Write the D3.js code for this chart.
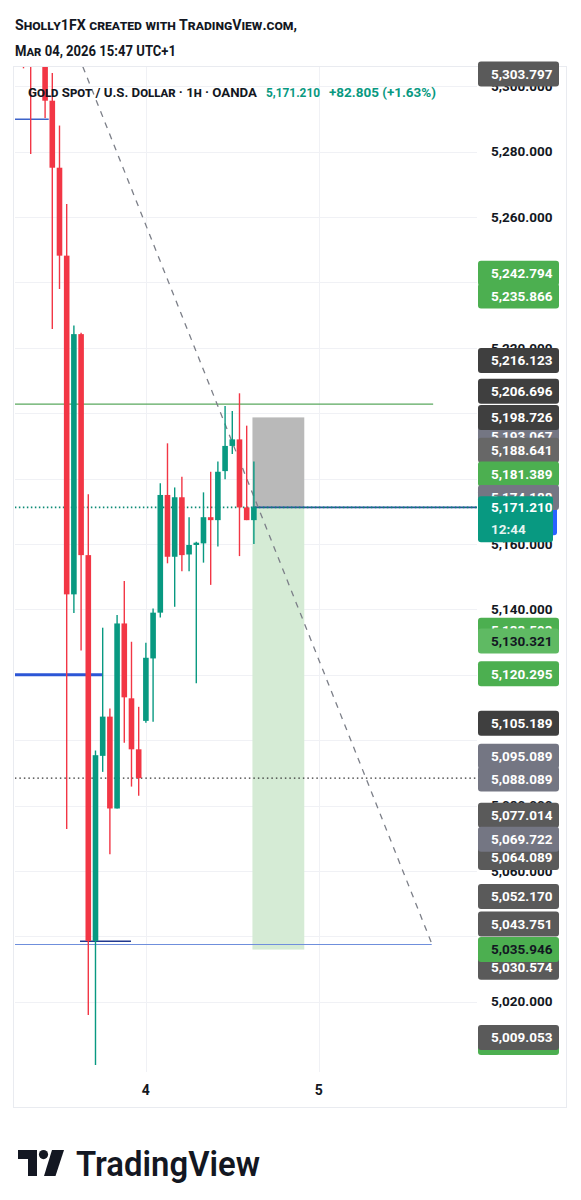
<!DOCTYPE html>
<html><head><meta charset="utf-8">
<script src="https://cdn.jsdelivr.net/npm/d3@7"></script>
<style>
html,body{margin:0;padding:0;background:#fff;}
svg{display:block;}
text{font-family:Roboto,"Liberation Sans",sans-serif;}
</style></head>
<body>
<script>
// ---------- DATA ----------
const hours = [-17,-16,-15,-14,-13,-12,-11,-10,-9,-8,-7,-6,-5,-4,-3,-2,-1,0,1,2,3,4,5,6,7,8,9,10,11,12,13,14,15];
const openV  = [5318,5318,5325,5318,5295.6,5275.1,5248.2,5144.6,5224.2,5156.6,5038.6,5095.2,5107.2,5079.1,5135.7,5112.8,5097.2,5105.9,5125.0,5139.0,5175.0,5156.1,5174.3,5156.8,5159.7,5160.2,5168.2,5167.3,5182.3,5190.0,5192.0,5171.2,5167.3];
const highV  = [5322,5325,5332,5322,5304.1,5288.0,5264.0,5226.8,5224.6,5175.2,5096.8,5134.4,5109.7,5138.3,5148.7,5130.1,5110.2,5129.8,5140.3,5178.6,5190.8,5177.3,5180.6,5168.2,5160.7,5175.8,5182.1,5185.2,5202.2,5200.7,5206.1,5196.2,5185.2];
const lowV   = [5305.5,5279.3,5312,5290.3,5225.8,5238.0,5072.8,5138.9,5127.4,5015.9,5000.6,5090.3,5065.1,5079.1,5099.2,5085.8,5083.0,5105.3,5105.6,5137.5,5154.1,5140.8,5151.7,5151.7,5117.4,5154.3,5147.5,5159.2,5179.8,5187.5,5156.3,5167.3,5160.0];
const closeV = [5312,5312,5318,5295.6,5275.1,5248.2,5144.6,5224.2,5156.6,5038.6,5095.4,5107.2,5079.1,5135.7,5113.1,5097.2,5088.4,5125.2,5139.0,5175.0,5156.1,5174.3,5156.6,5159.7,5160.4,5168.2,5167.3,5182.1,5190.0,5192.0,5171.2,5167.3,5171.21];

const timeTickHours = [0, 24];
const timeTickLabels = ["4", "5"];
const gridPrices = [5020,5040,5060,5080,5100,5120,5140,5160,5180,5200,5220,5240,5260,5280,5300];
const axisLabelPrices = [5300,5280,5260,5220,5160,5140,5080,5060,5020];

const lastPrice = 5171.21;
const prevClose = 5088.4;
const countdown = "12:44";

// horizontal drawings: [price, fromHour, toHour]
const hLineBlueTop   = [5289.9, -18.2, -13.5];
const hLineGreen     = [5202.8, -18.2, 39.9];
const hLineBlueThick = [5120.0, -18.2, -6.1];
const hLineBlueLow   = [5037.5, -18.2, 39.7];
const hLineNavyShort = [5038.5, -9.15, -2.07];
// trend line [hour, price]
const trendStart = [-8.76, 5306.0];
const trendEnd   = [39.7, 5037.8];
// short position: entry, stop, target, hours
const posEntry = 5171.21, posStop = 5198.726, posTarget = 5035.946;
const posFrom = 14.8, posTo = 22.0;

// price-scale tags (draw order)
const tagValues = [5303.797,5242.794,5235.866,5216.123,5193.067,5206.696,5198.726,5188.641,5181.389,5174.188,5133.593,5130.321,5120.295,5105.189,5095.089,5088.089,5064.089,5077.014,5069.722,5052.170,5043.751,5030.574,5035.946,5007.512,5009.053];
const tagKinds  = ["gray","green","green","dark","slate","dark","dark","mid","green","slate","green","lgreen","green","dark","slate","slate","gray","gray","slate","gray","gray","gray","greenB","green","gray"];

// ---------- LAYOUT ----------
const W = 581, H = 1200;
const L = 15, R = 477, T = 67, B = 1072;
const svg = d3.select("body").append("svg").attr("width", W).attr("height", H);

const x = d3.scaleLinear().domain([-18.18, 45.99]).range([L, R]);
const y = d3.scaleLinear().domain([5020, 5280]).range([1001.7, 151.7]);
const fmt = d3.format(",.3f");

const RED = "#f23645", GREEN = "#089981";

// frame
svg.append("rect").attr("x", 13.5).attr("y", 66.5).attr("width", 553).attr("height", 1041)
  .attr("fill", "none").attr("stroke", "#e9ebf0").attr("stroke-width", 1);

svg.append("defs").append("clipPath").attr("id", "plot")
  .append("rect").attr("x", L).attr("y", T).attr("width", R - L).attr("height", B - T);

const g = svg.append("g").attr("clip-path", "url(#plot)");

// grid
g.selectAll(".hg").data(gridPrices).join("line")
  .attr("x1", L).attr("x2", R).attr("y1", d => Math.round(y(d)) + 0.5).attr("y2", d => Math.round(y(d)) + 0.5)
  .attr("stroke", "#f0f1f5").attr("stroke-width", 1);
g.selectAll(".vg").data(timeTickHours).join("line")
  .attr("x1", d => Math.round(x(d)) + 0.5).attr("x2", d => Math.round(x(d)) + 0.5).attr("y1", T).attr("y2", B)
  .attr("stroke", "#f0f1f5").attr("stroke-width", 1);

// position boxes
g.append("rect").attr("x", x(posFrom)).attr("width", x(posTo) - x(posFrom))
  .attr("y", y(posStop)).attr("height", y(posEntry) - y(posStop))
  .attr("fill", "#b9b9b9");
g.append("rect").attr("x", x(posFrom)).attr("width", x(posTo) - x(posFrom))
  .attr("y", y(posEntry)).attr("height", y(posTarget) - y(posEntry))
  .attr("fill", "#d5ebd5");

// horizontal lines
function hline(d, color, w, dash) {
  const l = g.append("line").attr("x1", x(d[1])).attr("x2", x(d[2]))
    .attr("y1", y(d[0])).attr("y2", y(d[0])).attr("stroke", color).attr("stroke-width", w);
  if (dash) l.attr("stroke-dasharray", dash);
}
hline(hLineBlueTop, "#3d63c9", 1.5);
hline(hLineGreen, "#5aa85e", 1.2);
hline(hLineBlueThick, "#2c56d6", 3);
hline(hLineBlueLow, "#6f8fdc", 1.2);
hline(hLineNavyShort, "#22398f", 1.6);
hline([prevClose, -18.2, 46], "#333", 1.4, "1.5,3");
hline([posEntry, posFrom, 46], "#2a4e9c", 1.6);
hline([lastPrice, -18.2, 46], "#0a8a74", 1.6, "1.5,2.5");

// trend line
g.append("line").attr("x1", x(trendStart[0])).attr("y1", y(trendStart[1]))
  .attr("x2", x(trendEnd[0])).attr("y2", y(trendEnd[1]))
  .attr("stroke", "#7c7f88").attr("stroke-width", 1.3).attr("stroke-dasharray", "6,6");

// candles
const candles = hours.map((h, i) => ({h, o: openV[i], hi: highV[i], lo: lowV[i], c: closeV[i]}));
const bw = 5.6;
const cg = g.selectAll(".c").data(candles).join("g");
cg.append("line").attr("x1", d => x(d.h)).attr("x2", d => x(d.h))
  .attr("y1", d => y(d.hi)).attr("y2", d => y(d.lo))
  .attr("stroke", d => d.c >= d.o ? GREEN : RED).attr("stroke-width", 1.4);
cg.append("rect").attr("x", d => x(d.h) - bw / 2).attr("width", bw)
  .attr("y", d => y(Math.max(d.o, d.c)))
  .attr("height", d => Math.max(1.5, Math.abs(y(d.o) - y(d.c))))
  .attr("fill", d => d.c >= d.o ? GREEN : RED);

// ---------- PRICE SCALE ----------
const ax = svg.append("g");
ax.selectAll(".al").data(axisLabelPrices).join("text")
  .attr("x", 491).attr("y", d => y(d)).attr("dy", "0.35em")
  .attr("font-size", 13.5).attr("font-weight", 700).attr("fill", "#131722")
  .text(d => fmt(d));

const kindFill = {gray:"#5a5a5a", dark:"#3f3f3f", mid:"#676767", slate:"#747683", green:"#4caf50", lgreen:"#5fba63", greenB:"#4caf50"};
const kindText = {gray:"#fff", dark:"#fff", mid:"#fff", slate:"#fff", green:"#fff", lgreen:"#131722", greenB:"#131722"};

function tag(v, kind) {
  const gy = y(v);
  ax.append("rect").attr("x", 478).attr("y", gy - 12.5).attr("width", 81).attr("height", 25)
    .attr("rx", 3).attr("fill", kindFill[kind]);
  ax.append("text").attr("x", 491).attr("y", gy).attr("dy", "0.35em")
    .attr("font-size", 13.5).attr("font-weight", 700).attr("fill", kindText[kind]).text(fmt(v));
}
tagValues.forEach((v, i) => {
  if (v === 5174.188) {
    // entry (blue) tag behind current price
    ax.append("rect").attr("x", 478).attr("y", y(lastPrice) - 18).attr("width", 79).attr("height", 46)
      .attr("rx", 3).attr("fill", "#2962ff");
  }
  tag(v, tagKinds[i]);
});
// current price tag
const cy = y(lastPrice);
ax.append("rect").attr("x", 478).attr("y", cy - 11).attr("width", 75).attr("height", 46)
  .attr("rx", 3).attr("fill", GREEN);
ax.append("text").attr("x", 491).attr("y", cy).attr("dy", "0.35em")
  .attr("font-size", 13.5).attr("font-weight", 700).attr("fill", "#fff").text(fmt(lastPrice));
ax.append("text").attr("x", 491).attr("y", cy + 22).attr("dy", "0.35em")
  .attr("font-size", 13.5).attr("font-weight", 700).attr("fill", "#e6f5f1").text(countdown);

// ---------- TIME AXIS ----------
svg.selectAll(".tl").data(timeTickHours).join("text")
  .attr("x", d => x(d)).attr("y", 1095).attr("text-anchor", "middle")
  .attr("font-size", 14).attr("font-weight", 700).attr("fill", "#131722")
  .text((d, i) => timeTickLabels[i]);

// ---------- HEADER ----------
svg.append("text").attr("x", 15).attr("y", 29.5).attr("font-size", 14).attr("font-weight", 700)
  .attr("font-variant", "small-caps").attr("fill", "#131722")
  .attr("textLength", 282).attr("lengthAdjust", "spacingAndGlyphs")
  .text("Sholly1FX created with TradingView.com,");
svg.append("text").attr("x", 15).attr("y", 55.5).attr("font-size", 14).attr("font-weight", 700)
  .attr("font-variant", "small-caps").attr("fill", "#131722")
  .attr("textLength", 161).attr("lengthAdjust", "spacingAndGlyphs")
  .text("Mar 04, 2026 15:47 UTC+1");

// legend
svg.append("text").attr("x", 28).attr("y", 96.5).attr("font-size", 13.5).attr("font-weight", 700)
  .attr("font-variant", "small-caps").attr("fill", "#131722")
  .attr("textLength", 229).attr("lengthAdjust", "spacingAndGlyphs")
  .text("Gold Spot / U.S. Dollar · 1h · OANDA");
svg.append("text").attr("x", 266).attr("y", 96.5).attr("font-size", 13.5).attr("font-weight", 700)
  .attr("fill", GREEN).attr("textLength", 54).attr("lengthAdjust", "spacingAndGlyphs")
  .text(fmt(lastPrice));
svg.append("text").attr("x", 329).attr("y", 96.5).attr("font-size", 13.5).attr("font-weight", 700)
  .attr("fill", GREEN).attr("textLength", 107).attr("lengthAdjust", "spacingAndGlyphs")
  .text("+82.805 (+1.63%)");

// ---------- LOGO ----------
const lg = svg.append("g").attr("transform", "translate(18,1150)").attr("fill", "#131722");
lg.append("path").attr("d", "M0 0 H19 V26 H10 V9 H0 Z");
lg.append("circle").attr("cx", 25.5).attr("cy", 4.6).attr("r", 4.6);
lg.append("path").attr("d", "M34 0 H46 L37.5 26 H26 Z");
svg.append("text").attr("x", 76).attr("y", 1176).attr("font-size", 35).attr("font-weight", 600)
  .attr("font-family", "Inter, Roboto, sans-serif").attr("fill", "#131722")
  .attr("textLength", 184).attr("lengthAdjust", "spacingAndGlyphs").text("TradingView");
</script>
</body></html>
